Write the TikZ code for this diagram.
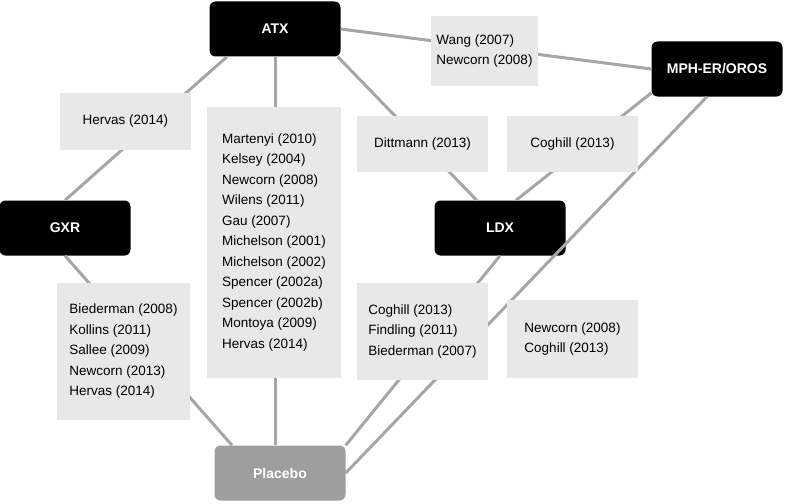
\documentclass[tikz,border=0pt]{standalone}
\usepackage{fontspec}
\setmainfont{Liberation Sans}
\begin{document}
\begin{tikzpicture}[x=1pt,y=-1pt,
  drug/.style={fill=black,rounded corners=6pt,text=white,font=\bfseries\fontsize{14}{16}\selectfont,minimum width=131pt,minimum height=55pt,inner sep=0pt},
  plac/.style={drug,fill=black!38},
  lab/.style={fill=black!9,font=\fontsize{13.5}{20.5}\selectfont,align=left,inner sep=0pt},
  conn/.style={draw=black!35,line width=3pt}]
\useasboundingbox (0,0) rectangle (786,503);
\node[drug] (atx) at (275,29) {ATX};
\node[drug] (mph) at (717,69) {MPH-ER/OROS};
\node[drug] (gxr) at (65,228) {GXR};
\node[drug] (ldx) at (500,228) {LDX};
\node[plac] (pl) at (280,473) {Placebo};
\draw[conn] (atx.210) -- (gxr.north);
\draw[conn] (atx.east) -- (mph.west);
\draw[conn] (atx.south) -- (atx.south |- pl.north);
\draw[conn] ([xshift=-3pt]atx.south east) -- (ldx.130);
\draw[conn] (mph.200) -- (ldx.60);
\draw[conn] (gxr.south) -- (pl.150);
\draw[conn] (ldx.south) -- (pl.north east);
\draw[conn] (mph.250) -- (pl.east);
\node[lab,minimum width=107pt,minimum height=70pt] (l1) at (484.5,51) {Wang (2007)\\Newcorn (2008)};
\node[lab,minimum width=131pt,minimum height=57pt] (l2) at (125.5,121.5) {Hervas (2014)};
\node[lab,minimum width=134pt,minimum height=271pt] (l3) at (274,242.5) {Martenyi (2010)\\Kelsey (2004)\\Newcorn (2008)\\Wilens (2011)\\Gau (2007)\\Michelson (2001)\\Michelson (2002)\\Spencer (2002a)\\Spencer (2002b)\\Montoya (2009)\\Hervas (2014)};
\node[lab,minimum width=131pt,minimum height=56pt] (l4) at (422.5,144) {Dittmann (2013)};
\node[lab,minimum width=131pt,minimum height=56pt] (l5) at (572.5,144) {Coghill (2013)};
\node[lab,minimum width=133pt,minimum height=137pt] (l6) at (123.5,351.5) {Biederman (2008)\\Kollins (2011)\\Sallee (2009)\\Newcorn (2013)\\Hervas (2014)};
\node[lab,minimum width=131pt,minimum height=97pt] (l7) at (422.5,331.5) {Coghill (2013)\\Findling (2011)\\Biederman (2007)};
\node[lab,minimum width=131pt,minimum height=78pt] (l8) at (572.5,339) {Newcorn (2008)\\Coghill (2013)};
\end{tikzpicture}
\end{document}
